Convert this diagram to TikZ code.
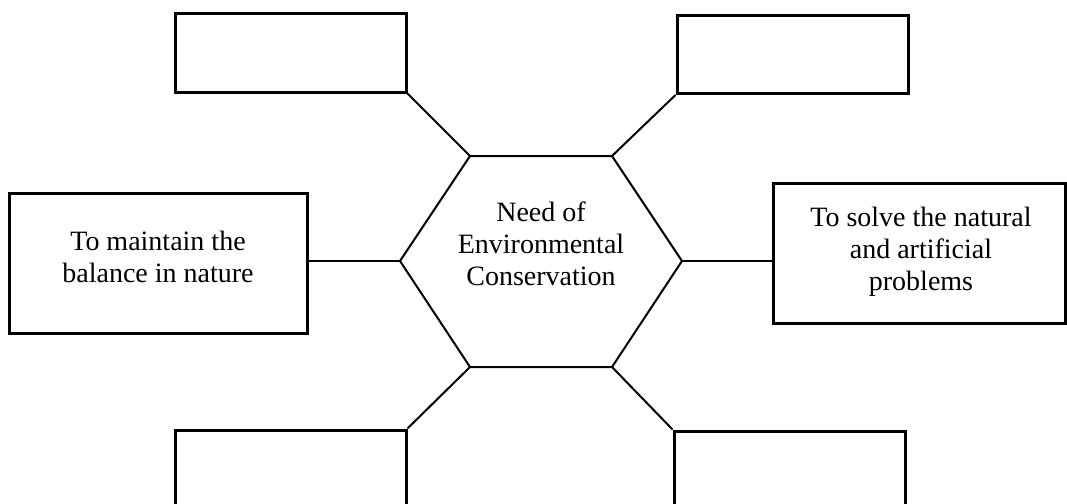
\documentclass[tikz,border=0pt]{standalone}
\usepackage{fontspec}
\setmainfont{Liberation Serif}
\tikzset{
  blank/.style={draw,line width=3pt,minimum width=231pt,minimum height=78pt,inner sep=0pt},
  reason/.style={draw,line width=3pt,inner sep=0pt},
  words/.style={align=center,inner sep=0pt,font=\fontsize{28}{32}\selectfont},
  link/.style={line width=2pt}
}
\begin{document}
\begin{tikzpicture}[x=1pt,y=-1pt]
\useasboundingbox (0,0) rectangle (1067,503);
\clip (0,0) rectangle (1067,503);
% hexagon in the middle
\coordinate (h1) at (470,156);
\coordinate (h2) at (612,156);
\coordinate (h3) at (682,261);
\coordinate (h4) at (612,367);
\coordinate (h5) at (470,367);
\coordinate (h6) at (400,261);
\draw[link,line join=miter] (h1) -- (h2) -- (h3) -- (h4) -- (h5) -- (h6) -- cycle;
\node[words] (need) at (541,244) {Need of\\Environmental\\Conservation};
% empty boxes
\node[blank] (tl) at (290.5,53) {};
\node[blank] (tr) at (792.5,54.5) {};
\node[blank,minimum height=100pt] (bl) at (290.5,480) {};
\node[blank,minimum height=100pt] (br) at (789.5,481) {};
% boxes with text
\node[reason,minimum width=298pt,minimum height=140pt] (left) at (158,263) {};
\node[words] (lefttext) at (158,257) {To maintain the\\balance in nature};
\node[reason,minimum width=292pt,minimum height=140pt] (right) at (919,253) {};
\node[words] (righttext) at (921,252) {To solve the natural\\and artificial\\problems};
% connectors
\draw[link] (tl.south east) -- (h1);
\draw[link] (tr.south west) -- (h2);
\draw[link] (h6 -| left.east) -- (h6);
\draw[link] (h3) -- (h3 -| right.west);
\draw[link] (h5) -- (bl.north east);
\draw[link] (h4) -- (br.north west);
\end{tikzpicture}
\end{document}
